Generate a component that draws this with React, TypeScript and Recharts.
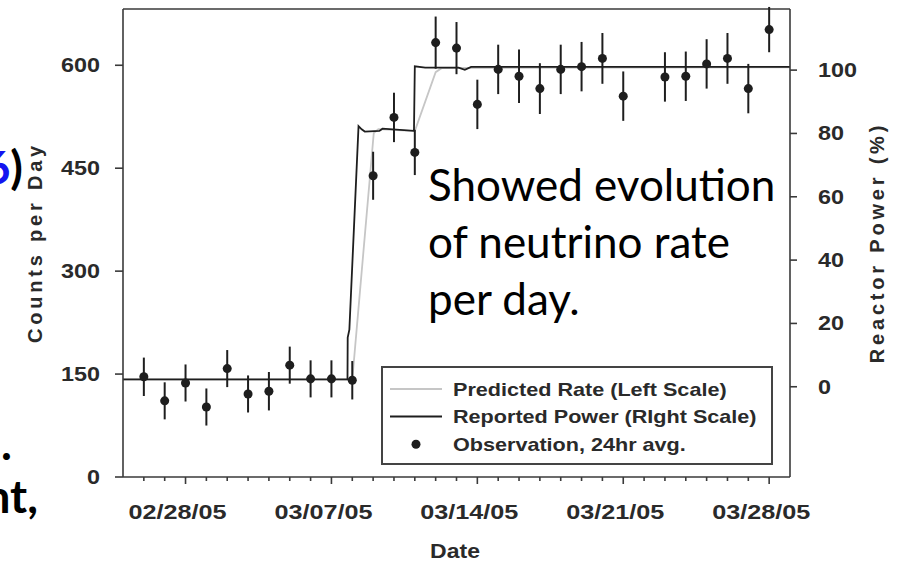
import {
  ComposedChart,
  Line,
  Scatter,
  ErrorBar,
  XAxis,
  YAxis,
  Legend,
  ReferenceLine,
} from "recharts";

// days counted from 02/25/05 (day 0) to 03/29/05 (day 32)
const dayTicks = Array.from({ length: 31 }, (_, i) => i + 1);
const majorDays = [3, 10, 17, 24, 31];
const majorLabels = ["02/28/05", "03/07/05", "03/14/05", "03/21/05", "03/28/05"];

const countTicks = [0, 150, 300, 450, 600];
const powerTicks = [0, 20, 40, 60, 80, 100];

// observations, 24hr average (left scale)
const obsDays = [1, 2, 3, 4, 5, 6, 7, 8, 9, 10, 11, 12, 13, 14, 15, 16, 17, 18, 19, 20, 21, 22, 23, 24, 26, 27, 28, 29, 30, 31];
const obsCounts = [146, 111, 137, 102, 158, 121, 125, 163, 143, 143, 141, 439, 524, 473, 633, 625, 543, 594, 584, 566, 594, 598, 610, 555, 583, 584, 602, 610, 566, 652];
const obsErrors = [28, 27, 27, 27, 27, 27, 28, 27, 27, 27, 28, 35, 36, 33, 38, 38, 36, 36, 39, 37, 36, 36, 37, 36, 36, 36, 36, 37, 36, 33];

// predicted rate (left scale)
const predDays = [0, 11.0, 12.03, 12.25, 14.0, 15.0, 15.3, 32];
const predCounts = [142, 142, 501, 507, 504, 590, 596, 597];

// reported power (right scale)
const powerDays = [0, 10.77, 10.78, 10.86, 11.3, 11.45, 11.6, 12.3, 12.45, 13.96, 14.0, 14.5, 16.1, 16.4, 16.7, 32];
const powerPct = [2.3, 2.3, 15.5, 18, 82.3, 81.3, 80.6, 80.8, 81.5, 80.8, 101.2, 100.8, 100.8, 100.1, 101, 101];

const obsData = obsDays.map((d, i) => ({ day: d, count: obsCounts[i], err: obsErrors[i] }));
const predData = predDays.map((d, i) => ({ day: d, count: predCounts[i] }));
const powerData = powerDays.map((d, i) => ({ day: d, power: powerPct[i] }));

const AXIS = "#3a3a3a";
const INK = "#1e1e1e";
const GRAY_LINE = "#c6c6c6";
const FONT = "'Liberation Sans', Arial, sans-serif";
const TEXT = "#2a2a2a";

// the original figure's lettering is wide, so the text is stretched sideways
const wideText = {
  fontFamily: FONT,
  fontWeight: 700,
  fill: TEXT,
};

function DateTick(props: any) {
  const { x, y, payload } = props;
  const idx = majorDays.indexOf(payload.value);
  const major = idx >= 0;
  return (
    <g>
      <line x1={x} x2={x} y1={y} y2={y + (major ? 7 : 4)} stroke={AXIS} strokeWidth={1.6} />
      {major && (
        <text
          transform={`translate(${x - 8},${y + 42}) scale(1.2,1)`}
          textAnchor="middle"
          fontSize={21}
          {...wideText}
        >
          {majorLabels[idx]}
        </text>
      )}
    </g>
  );
}

function LeftTick(props: any) {
  const { x, y, payload } = props;
  return (
    <text
      transform={`translate(${x},${y}) scale(1.2,1)`}
      textAnchor="end"
      dy="0.36em"
      fontSize={19.5}
      {...wideText}
    >
      {payload.value}
    </text>
  );
}

function RightTick(props: any) {
  const { x, y, payload } = props;
  return (
    <text
      transform={`translate(${x},${y}) scale(1.2,1)`}
      textAnchor="start"
      dy="0.36em"
      fontSize={19.5}
      {...wideText}
    >
      {payload.value}
    </text>
  );
}

const legendItems = [
  { label: "Predicted Rate (Left Scale)", kind: "gray" },
  { label: "Reported Power (RIght Scale)", kind: "black" },
  { label: "Observation, 24hr avg.", kind: "dot" },
];

function LegendBox() {
  return (
    <div
      style={{
        width: 388,
        height: 95,
        border: `2px solid #444`,
        background: "#fff",
        position: "relative",
        boxSizing: "content-box",
      }}
    >
      <svg width={388} height={95} style={{ position: "absolute", left: 0, top: 0 }}>
        {legendItems.map((it, i) => {
          const cy = 21 + i * 27.6;
          return (
            <g key={it.label}>
              {it.kind === "dot" ? (
                <circle cx={33} cy={cy} r={4.5} fill={INK} />
              ) : (
                <line
                  x1={7}
                  x2={59}
                  y1={cy}
                  y2={cy}
                  stroke={it.kind === "gray" ? GRAY_LINE : INK}
                  strokeWidth={2}
                />
              )}
              <text
                transform={`translate(70,${cy + 6.5}) scale(1.2,1)`}
                fontSize={18}
                {...wideText}
              >
                {it.label}
              </text>
            </g>
          );
        })}
      </svg>
    </div>
  );
}

export default function App() {
  return (
    <div
      style={{
        position: "absolute",
        left: 0,
        top: 0,
        width: 903,
        height: 562,
        background: "#fff",
        overflow: "hidden",
      }}
    >
      <ComposedChart width={903} height={562} margin={{ top: 9, right: 0, bottom: 0, left: 0 }}>
        <XAxis
          dataKey="day"
          type="number"
          domain={[0, 32]}
          allowDataOverflow
          ticks={dayTicks}
          interval={0}
          tick={DateTick}
          tickLine={false}
          tickSize={0}
          tickMargin={0}
          height={85}
          axisLine={{ stroke: AXIS, strokeWidth: 1.6 }}
        />
        <YAxis
          yAxisId="left"
          type="number"
          domain={[0, 682]}
          allowDataOverflow
          ticks={countTicks}
          interval={0}
          width={123}
          tickSize={8}
          tickMargin={15}
          tick={LeftTick}
          tickLine={{ stroke: AXIS, strokeWidth: 1.6 }}
          axisLine={{ stroke: AXIS, strokeWidth: 1.6 }}
        />
        <YAxis
          yAxisId="right"
          orientation="right"
          type="number"
          domain={[-28.5, 119.3]}
          allowDataOverflow
          ticks={powerTicks}
          interval={0}
          width={113}
          tickSize={7}
          tickMargin={21}
          tick={RightTick}
          tickLine={{ stroke: AXIS, strokeWidth: 1.6 }}
          axisLine={{ stroke: AXIS, strokeWidth: 1.6 }}
        />
        <ReferenceLine yAxisId="left" y={682} stroke={AXIS} strokeWidth={1.6} ifOverflow="visible" />
        <Line
          yAxisId="left"
          data={predData}
          dataKey="count"
          type="linear"
          stroke={GRAY_LINE}
          strokeWidth={1.8}
          dot={false}
          activeDot={false}
          isAnimationActive={false}
        />
        <Line
          yAxisId="right"
          data={powerData}
          dataKey="power"
          type="linear"
          stroke={INK}
          strokeWidth={1.8}
          dot={false}
          activeDot={false}
          isAnimationActive={false}
        />
        <Scatter
          yAxisId="left"
          data={obsData}
          dataKey="count"
          fill={INK}
          isAnimationActive={false}
        >
          <ErrorBar dataKey="err" direction="y" width={0} stroke={INK} strokeWidth={2} />
        </Scatter>
        <Legend
          layout="vertical"
          align="center"
          verticalAlign="middle"
          content={() => <LegendBox />}
          wrapperStyle={{ position: "absolute", left: 381, top: 366, width: 392, height: 99 }}
        />
      </ComposedChart>
      <svg
        width={903}
        height={562}
        style={{ position: "absolute", left: 0, top: 0, pointerEvents: "none" }}
      >
        <text
          transform="translate(42,242.5) rotate(-90)"
          textAnchor="middle"
          fontFamily={FONT}
          fontSize={20}
          fontWeight={700}
          fill={TEXT}
          letterSpacing={3.8}
        >
          Counts per Day
        </text>
        <text
          transform="translate(884,242.5) rotate(-90)"
          textAnchor="middle"
          fontFamily={FONT}
          fontSize={20}
          fontWeight={700}
          fill={TEXT}
          letterSpacing={3.8}
        >
          Reactor Power (%)
        </text>
        <text
          transform="translate(455,558) scale(1.15,1)"
          textAnchor="middle"
          fontFamily={FONT}
          fontSize={20}
          fontWeight={700}
          fill={TEXT}
        >
          Date
        </text>
        <g fontFamily="Lato, 'Open Sans', sans-serif" fontSize={44} fill="#000">
          <text x={428} y={201}>Showed evolution</text>
          <text x={428} y={258}>of neutrino rate</text>
          <text x={428} y={315}>per day.</text>
        </g>
        <g fontFamily="Lato, 'Open Sans', sans-serif" fontSize={46} fontWeight={700}>
          <text x={23} y={184} textAnchor="end">
            <tspan fill="#1414f0">6</tspan>
            <tspan fill="#000">)</tspan>
          </text>
          <text x={1} y={460} fill="#000">.</text>
          <text x={38} y={513} textAnchor="end" fill="#000">nt,</text>
        </g>
      </svg>
    </div>
  );
}
